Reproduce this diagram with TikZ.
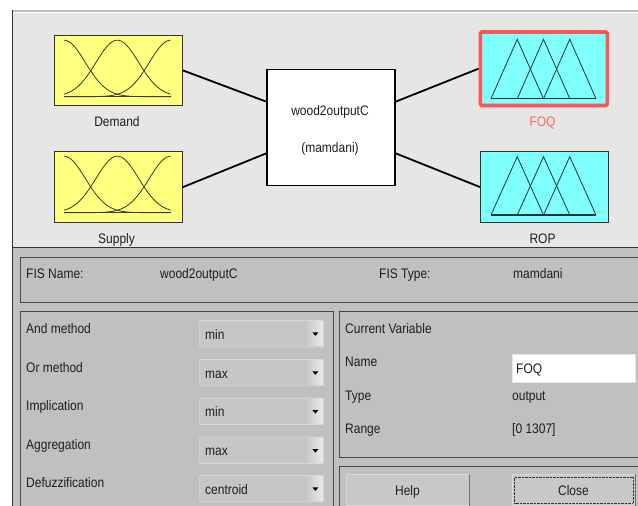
\documentclass[tikz,border=0pt]{standalone}
\usepackage{fontspec}
\setmainfont{Liberation Sans}
\usetikzlibrary{calc}
\newcommand{\stx}[1]{\scalebox{1}[1.15]{#1}}
\definecolor{upperbg}{HTML}{E6E6E6}
\definecolor{lowerbg}{HTML}{C0C0C0}
\definecolor{topline}{HTML}{B9BDC6}
\definecolor{framecol}{HTML}{2E382E}
\definecolor{mfyellow}{HTML}{FFFF80}
\definecolor{mfcyan}{HTML}{80FFFF}
\definecolor{selred}{HTML}{FF5555}
\definecolor{olive}{HTML}{3A3A1E}
\definecolor{tealdark}{HTML}{1E3636}
\definecolor{ddfill}{HTML}{C6C6C6}
\definecolor{ddedge}{HTML}{D6D6D6}
\definecolor{btnfill}{HTML}{C8C8C8}
\tikzset{
  mfbox/.style={draw=black!80, line width=0.8pt, inner sep=0pt},
  conn/.style={line width=1.8pt, black},
  lbl/.style={inner sep=0pt, text height=10pt, text depth=0pt, anchor=west, text=black!88, font=\fontsize{12}{14}\selectfont},
  clbl/.style={lbl, anchor=center},
  panel/.style={draw=black!72, line width=0.9pt},
  ddbox/.style={draw=ddedge, fill=ddfill, line width=0.8pt, rounded corners=1pt, minimum width=124pt, minimum height=26.5pt, anchor=north west, inner sep=0pt},
  btn/.style={draw=white!85!black, fill=btnfill, line width=1pt, minimum width=123pt, minimum height=31pt, anchor=north west, inner sep=0pt},
  mfline/.style={olive, line width=0.8pt},
  triline/.style={tealdark, line width=0.8pt, line join=miter}
}
\begin{document}
\begin{tikzpicture}[x=1pt,y=-1pt]
\useasboundingbox (0,0) rectangle (638,506);
\fill[white] (0,0) rectangle (638,506);
% window frame
\fill[topline] (12,9.5) rectangle (638,12);
\fill[upperbg] (13,13) rectangle (638,247.5);
\fill[lowerbg] (13,248) rectangle (638,506);
\draw[framecol, line width=1.2pt] (12.5,10) -- (12.5,506);
\draw[framecol, line width=1.2pt] (12.5,247.8) -- (638,247.8);

% ---------- upper diagram ----------
\node[mfbox, fill=mfyellow, minimum width=128.5pt, minimum height=69.5pt] (dem) at (118.3,70.4) {};
\node[mfbox, fill=mfyellow, minimum width=128pt, minimum height=71pt] (sup) at (118.3,187.2) {};
\node[draw=black, line width=1.8pt, fill=white, minimum width=128pt, minimum height=116pt, inner sep=0pt] (ctr) at (331,127.5) {};
\node[draw=selred, line width=3.6pt, rounded corners=1.5pt, fill=mfcyan, minimum width=127pt, minimum height=73.5pt, inner sep=0pt] (foq) at (543.8,68.7) {};
\node[mfbox, fill=mfcyan, minimum width=127.5pt, minimum height=71pt] (rop) at (544.5,187.2) {};

% membership functions (gaussian)
\foreach \c in {0,0.5,1} {
  \draw[mfline] plot[domain=0:1, samples=60, smooth] ({64+106.7*\x},{96.7-56.5*exp(-((\x-\c)^2)/0.08)});
  \draw[mfline] plot[domain=0:1, samples=60, smooth] ({64+106.7*\x},{212.7-56.5*exp(-((\x-\c)^2)/0.08)});
}
\draw[mfline, line width=1.1pt] (64,96.7) -- (170.7,96.7);
\draw[mfline, line width=1.1pt] (64,212.7) -- (170.7,212.7);

% membership functions (triangular)
\foreach \yb/\yt in {98.7/39.3, 215/156.7} {
  \foreach \a in {491, 517.25, 543.5} {
    \draw[triline] (\a,\yb) -- (\a+26.25,\yt) -- (\a+52.5,\yb);
  }
  \draw[triline, line width=1.1pt] (491,\yb) -- (596,\yb);
}

% connectors
\draw[conn] (dem.east) -- ($(ctr.north west)!0.28!(ctr.south west)$);
\draw[conn] (sup.east) -- ($(ctr.north west)!0.72!(ctr.south west)$);
\draw[conn] ($(ctr.north east)!0.28!(ctr.south east)$) -- (foq.west);
\draw[conn] ($(ctr.north east)!0.72!(ctr.south east)$) -- (rop.west);

% labels
\node[clbl] (tdem) at (117,121) {\stx{Demand}};
\node[clbl] (tsup) at (116.5,238) {\stx{Supply}};
\node[clbl] (tctr1) at (330,110) {\stx{wood2outputC}};
\node[clbl] (tctr2) at (330,147) {\stx{(mamdani)}};
\node[clbl, text=selred!90] (tfoq) at (542.5,121) {\stx{FOQ}};
\node[clbl] (trop) at (542.5,238) {\stx{ROP}};

% ---------- lower panel ----------
\draw[panel] (20.5,257) rectangle (645,302);
\draw[panel] (20.5,311) rectangle (333,515);
\draw[panel] (339.5,311) rectangle (645,457.5);
\draw[panel] (339.5,466) rectangle (645,515);

\node[lbl] (fisname) at (26,273) {\stx{FIS Name:}};
\node[lbl] (fisnamev) at (160,273) {\stx{wood2outputC}};
\node[lbl] (fistype) at (379,273) {\stx{FIS Type:}};
\node[lbl] (fistypev) at (513,273) {\stx{mamdani}};

\foreach \n/\ly/\dy/\lab/\val in {1/328.5/320/And method/min, 2/367/359/Or method/max, 3/405.7/397.7/Implication/min, 4/444/436.7/Aggregation/max, 5/482/475/Defuzzification/centroid} {
  \node[lbl] (lab\n) at (26,\ly) {\stx{\lab}};
  \node[ddbox] (dd\n) at (199.3,\dy) {};
  \shade[left color=ddfill!90!white, right color=white!92!black, rounded corners=1pt] ($(dd\n.north east)+(-16.5,1)$) rectangle ($(dd\n.south east)+(-1,-1)$);
  \fill[black] ($(dd\n.east)+(-11.7,-1.3)$) -- ($(dd\n.east)+(-5.7,-1.3)$) -- ($(dd\n.east)+(-8.7,2.2)$) -- cycle;
  \node[lbl] (val\n) at (205,\dy+14) {\stx{\val}};
}

\node[lbl] (curvar) at (345,328) {\stx{Current Variable}};
\node[lbl] (vname) at (345,361) {\stx{Name}};
\node[lbl] (vtype) at (345,395) {\stx{Type}};
\node[lbl] (vrange) at (345,428) {\stx{Range}};
\node[draw=white!90!black, fill=white, line width=0.6pt, minimum width=123pt, minimum height=28pt, anchor=north west, inner sep=0pt] (namefield) at (512,354) {};
\node[lbl] (vnamev) at (516,368) {\stx{FOQ}};
\node[lbl] (vtypev) at (512,395) {\stx{output}};
\node[lbl] (vrangev) at (512,428.5) {\stx{[0 1307]}};

\node[btn] (help) at (345.5,474) {};
\draw[black!55, line width=0.8pt] (help.north east) -- (help.south east);
\node[clbl] (thelp) at (help.center) {\stx{Help}};
\node[btn] (close) at (511.5,474) {};
\draw[black!55, line width=0.8pt] (close.north east) -- (close.south east);
\draw[black!80, line width=0.7pt, dash pattern=on 0.7pt off 0.7pt] ($(close.north west)+(3,3.5)$) rectangle ($(close.south east)+(-2.5,-3)$);
\node[clbl] (tclose) at (close.center) {\stx{Close}};
\end{tikzpicture}
\end{document}
